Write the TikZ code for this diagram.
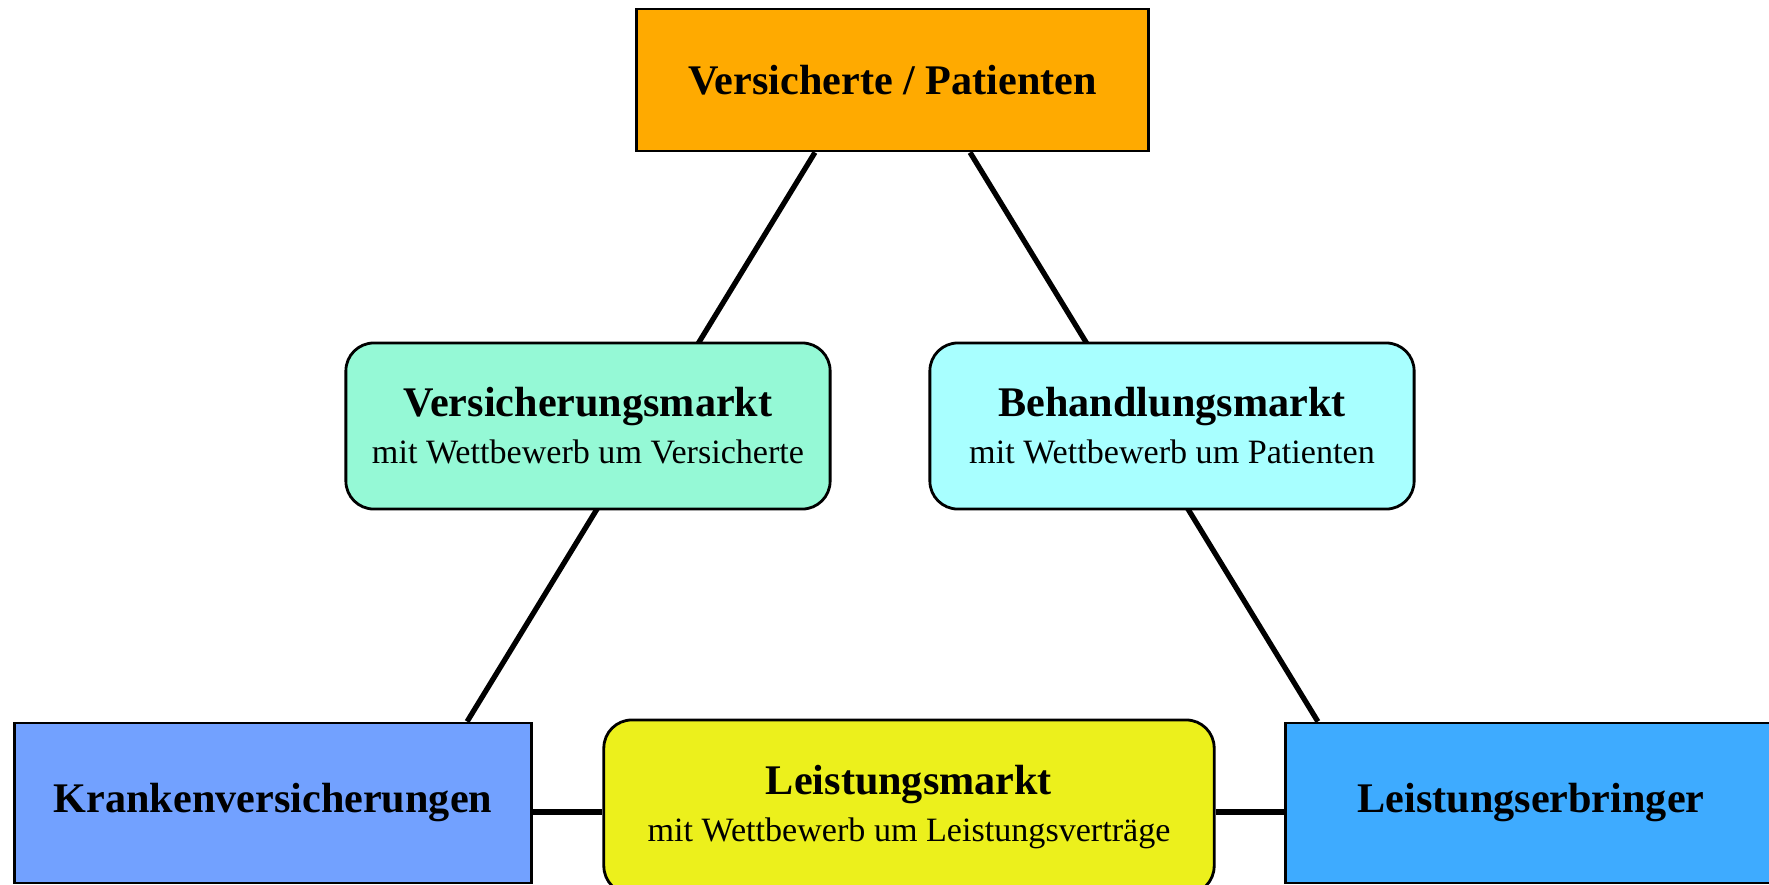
\documentclass[tikz,border=0pt]{standalone}
\usepackage{fontspec}
\setmainfont{Liberation Serif}
\usepackage{tikz}
\usetikzlibrary{backgrounds}

\definecolor{cVersicherte}{HTML}{FFAA00}
\definecolor{cVmarkt}{HTML}{95F9D6}
\definecolor{cBmarkt}{HTML}{A8FFFF}
\definecolor{cKasse}{HTML}{72A1FF}
\definecolor{cLmarkt}{HTML}{ECF01C}
\definecolor{cErbringer}{HTML}{3EABFF}

\newcommand{\headfont}{\bfseries\fontsize{12}{13.4}\selectfont}
\tikzset{
	partei/.style={draw=black, line width=0.8pt, align=center,
			font=\headfont, inner sep=0pt},
	markt/.style={draw=black, line width=0.8pt, rounded corners=0.28cm,
			align=center, inner sep=0pt,
			font=\fontsize{9.7}{13.4}\selectfont,
			minimum width=4.84cm, minimum height=1.66cm},
	link/.style={line width=1.5pt}
}

\begin{document}
\begin{tikzpicture}[x=0.01cm, y=-0.01cm]
  \useasboundingbox (0,0) rectangle (1769,884);

  % Akteure
  \node[partei, fill=cVersicherte, minimum width=5.11cm, minimum height=1.42cm] (versicherte) at (892.5,80) {Versicherte / Patienten};
  \node[partei, fill=cKasse, minimum width=5.16cm, minimum height=1.6cm] (kassen) at (273,803) {Krankenversicherungen};
  \node[partei, fill=cErbringer, minimum width=4.9cm, minimum height=1.6cm] (erbringer) at (1531,803) {Leistungserbringer};

  % Maerkte
  \node[markt, fill=cVmarkt] (vmarkt) at (588,426) {{\headfont Versicherungsmarkt}\\mit Wettbewerb um Versicherte};
  \node[markt, fill=cBmarkt] (bmarkt) at (1172,426) {{\headfont Behandlungsmarkt}\\mit Wettbewerb um Patienten};
  \node[markt, fill=cLmarkt, minimum width=6.1cm, minimum height=1.74cm] (lmarkt) at (909,807) {{\headfont Leistungsmarkt}\\mit Wettbewerb um Leistungsvertr\"age};

  \begin{pgfonlayer}{background}
    \draw[link] ([xshift=-0.775cm]versicherte.south) -- ([xshift=1.94cm]kassen.north);
    \draw[link] ([xshift=0.775cm]versicherte.south) -- ([xshift=-2.13cm]erbringer.north);
    \draw[link] ([yshift=-0.09cm]kassen.east) -- ([yshift=-0.09cm]kassen.east -| lmarkt.west);
    \draw[link] ([yshift=-0.09cm]erbringer.west -| lmarkt.east) -- ([yshift=-0.09cm]erbringer.west);
  \end{pgfonlayer}
\end{tikzpicture}
\end{document}
